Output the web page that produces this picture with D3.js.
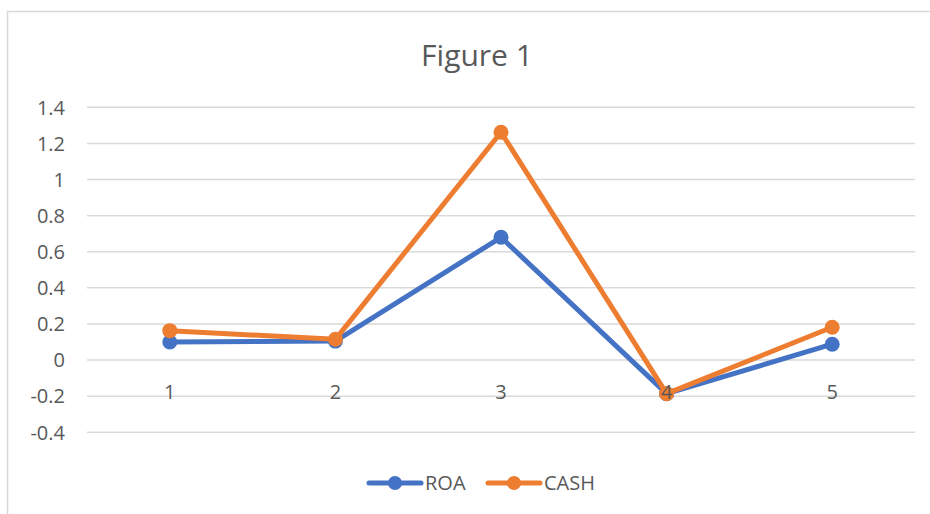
<!DOCTYPE html>
<html><head><meta charset="utf-8">
<script src="https://cdn.jsdelivr.net/npm/d3@7"></script>
<style>body{margin:0;background:#fff}svg{display:block}text{font-family:"Open Sans",sans-serif;fill:#595959}</style>
</head><body><svg id="c" width="930" height="514"></svg>
<script>
const categories = ["1","2","3","4","5"];
const roa = [0.10, 0.105, 0.68, -0.186, 0.088];
const cash = [0.163, 0.115, 1.262, -0.186, 0.182];
const yTicks = [-0.4,-0.2,0,0.2,0.4,0.6,0.8,1,1.2,1.4];
const seriesNames = ["ROA","CASH"];
const colors = ["#4472C4","#ED7D31"];
const title = "Figure 1";

const svg = d3.select("#c");
svg.append("rect").attr("x",7.5).attr("y",11.5).attr("width",940).attr("height",520)
  .attr("fill","#fff").attr("stroke","#d9d9d9").attr("stroke-width",1.5);

const x = d3.scaleBand().domain(categories).range([87,915]);
const y = d3.scaleLinear().domain([-0.4,1.4]).range([432.3,107.3]);

svg.append("text").attr("x",477).attr("y",66).attr("text-anchor","middle")
  .style("font-size","30px").text(title);

const g = svg.append("g");
g.selectAll("line.grid").data(yTicks).join("line").attr("class","grid")
  .attr("x1",87).attr("x2",915).attr("y1",d=>y(d)).attr("y2",d=>y(d))
  .attr("stroke","#d9d9d9").attr("stroke-width",1.5);

g.selectAll("text.yl").data(yTicks).join("text").attr("class","yl")
  .attr("x",65).attr("y",d=>y(d)).attr("dy","0.36em").attr("text-anchor","end")
  .style("font-size","20px").text(d=>String(+d.toFixed(1)));

const series = [roa, cash];
const line = d3.line().x((d,i)=>x(categories[i])+x.bandwidth()/2).y(d=>y(d));
series.forEach((s,k)=>{
  g.append("path").datum(s).attr("d",line).attr("fill","none")
    .attr("stroke",colors[k]).attr("stroke-width",5).attr("stroke-linejoin","round").attr("stroke-linecap","round");
  g.selectAll("circle.s"+k).data(s).join("circle").attr("class","s"+k)
    .attr("cx",(d,i)=>x(categories[i])+x.bandwidth()/2).attr("cy",d=>y(d)).attr("r",7.5).attr("fill",colors[k]);
});

g.selectAll("text.xl").data(categories).join("text").attr("class","xl")
  .attr("x",d=>x(d)+x.bandwidth()/2).attr("y",y(0)+32).attr("dy","0.36em").attr("text-anchor","middle")
  .style("font-size","20px").text(d=>d);

// legend
const leg = svg.append("g");
const lx = [369, 488];
seriesNames.forEach((n,k)=>{
  const gx = lx[k], gy = 483;
  leg.append("line").attr("x1",gx).attr("x2",gx+52).attr("y1",gy).attr("y2",gy)
    .attr("stroke",colors[k]).attr("stroke-width",5).attr("stroke-linecap","round");
  leg.append("circle").attr("cx",gx+26).attr("cy",gy).attr("r",7).attr("fill",colors[k]);
  leg.append("text").attr("x",gx+56).attr("y",gy).attr("dy","0.36em").style("font-size","20px").text(n);
});
</script></body></html>
